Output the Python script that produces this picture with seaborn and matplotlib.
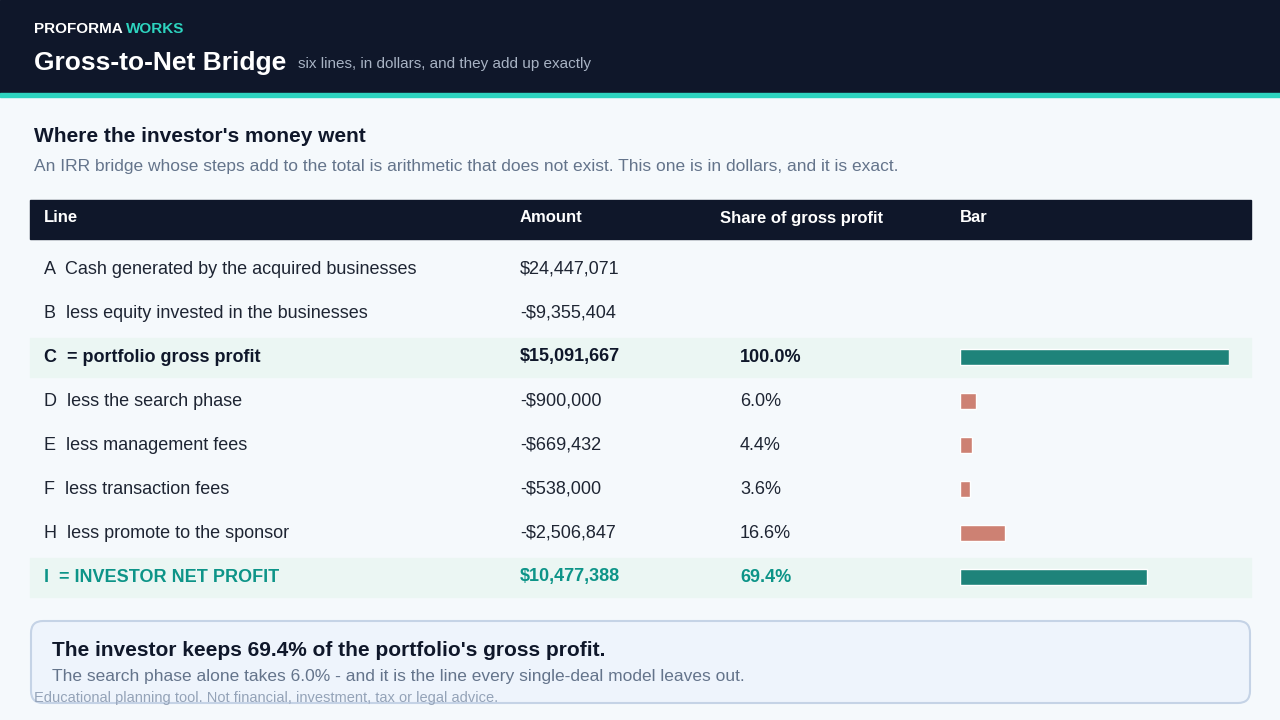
import matplotlib
matplotlib.use("Agg")
import matplotlib.pyplot as plt
from matplotlib.patches import Rectangle, FancyBboxPatch
import seaborn as sns
import pandas as pd

sns.set_theme(style="white")
plt.rcParams['font.family'] = ['Liberation Sans', 'DejaVu Sans']

line_keys = ["A", "B", "C", "D", "E", "F", "H", "I"]
line_labels = ["Cash generated by the acquired businesses", "less equity invested in the businesses",
               "= portfolio gross profit", "less the search phase", "less management fees",
               "less transaction fees", "less promote to the sponsor", "= INVESTOR NET PROFIT"]
amounts = ["$24,447,071", "-$9,355,404", "$15,091,667", "-$900,000", "-$669,432",
           "-$538,000", "-$2,506,847", "$10,477,388"]
shares = [None, None, 100.0, 6.0, 4.4, 3.6, 16.6, 69.4]
kinds = ["plain", "plain", "total", "cost", "cost", "cost", "cost", "net"]

BG = "#f5f9fc"
NAVY = "#0f172a"
TEAL = "#0d9488"
MINT = "#2dd4bf"
RED = "#dc7764"
GREY = "#64748b"

fig = plt.figure(figsize=(12.8, 7.2), dpi=100, facecolor=BG)
ax = fig.add_axes([0, 0, 1, 1])
ax.set_xlim(0, 1280)
ax.set_ylim(720, 0)
ax.axis("off")

# header band
ax.add_patch(Rectangle((0, 0), 1280, 93, color=NAVY))
ax.add_patch(Rectangle((0, 93), 1280, 4, color=MINT))
ax.text(34, 29, "PROFORMA", color="white", fontsize=11, fontweight="bold", va="center")
ax.text(126, 29, "WORKS", color=MINT, fontsize=11, fontweight="bold", va="center")
ax.text(34, 63, "Gross-to-Net Bridge", color="white", fontsize=19, fontweight="bold", va="center")
ax.text(298, 64, "six lines, in dollars, and they add up exactly", color="#a8b3c4", fontsize=11, va="center")

ax.text(34, 136, "Where the investor's money went", color=NAVY, fontsize=15, fontweight="bold", va="center")
ax.text(34, 166, "An IRR bridge whose steps add to the total is arithmetic that does not exist. "
        "This one is in dollars, and it is exact.", color=GREY, fontsize=12.5, va="center")

# table header
ax.add_patch(Rectangle((30, 200), 1221, 39, color=NAVY))
for x, h in [(44, "Line"), (520, "Amount"), (720, "Share of gross profit"), (960, "Bar")]:
    ax.text(x, 218, h, color="white", fontsize=12, fontweight="bold", va="center")

row_y = [269, 313, 357, 401, 445, 489, 533, 577]
for k, lab, amt, sh, kind, y in zip(line_keys, line_labels, amounts, shares, kinds, row_y):
    color, weight = "#1e2533", "normal"
    if kind in ("total", "net"):
        ax.add_patch(Rectangle((30, y - 19), 1221, 39, color="#ebf6f3"))
        weight = "bold"
        color = NAVY if kind == "total" else TEAL
    ax.text(44, y, f"{k}  {lab}", color=color, fontsize=13, fontweight=weight, va="center")
    ax.text(520, y, amt, color=color, fontsize=13, fontweight=weight, va="center")
    if sh is not None:
        ax.text(740, y, f"{sh:.1f}%", color=color, fontsize=13, fontweight=weight, va="center")

# callout
ax.add_patch(FancyBboxPatch((31, 621), 1219, 82, boxstyle="round,pad=0,rounding_size=12",
                            facecolor="#eef4fc", edgecolor="#c5d3e6", linewidth=1.5))
ax.text(52, 651, "The investor keeps 69.4% of the portfolio's gross profit.", color=NAVY,
        fontsize=15, fontweight="bold", va="center")
ax.text(52, 677, "The search phase alone takes 6.0% - and it is the line every single-deal model leaves out.",
        color=GREY, fontsize=12.5, va="center")
ax.text(34, 698, "Educational planning tool. Not financial, investment, tax or legal advice.",
        color="#94a3b8", fontsize=10.5, va="center")

# bars via seaborn
df = pd.DataFrame({"key": line_keys, "share": shares, "kind": kinds}).dropna()
pal = {"total": TEAL, "cost": RED, "net": TEAL}
bax = fig.add_axes([960 / 1280, 1 - 599 / 720, 269 / 1280, 264 / 720])
sns.barplot(data=df, y="key", x="share", hue="kind", palette=pal, orient="h",
            width=0.36, dodge=False, legend=False, ax=bax)
bax.set_xlim(0, 100)
bax.axis("off")
bax.patch.set_alpha(0)

fig.savefig("out.png", dpi=100, facecolor=BG)
